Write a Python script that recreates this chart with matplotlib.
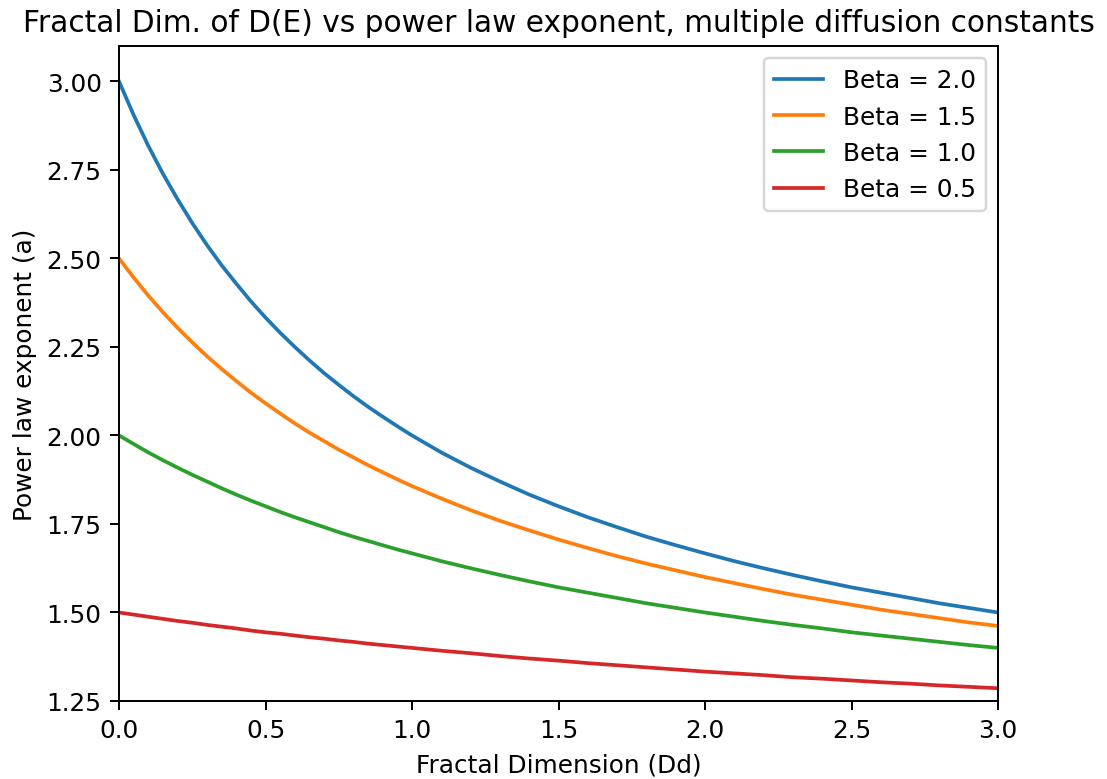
import numpy as np
import matplotlib.pyplot as plt

# fractal dimension samples (finer where the curves bend most)
dd = [0.0, 0.05, 0.1, 0.15, 0.2, 0.25, 0.3, 0.35, 0.4, 0.45, 0.5,
      0.55, 0.6, 0.65, 0.7, 0.75, 0.8, 0.85, 0.9, 0.95, 1.0,
      1.1, 1.2, 1.3, 1.4, 1.5, 1.6, 1.7, 1.8, 1.9, 2.0,
      2.1, 2.2, 2.3, 2.4, 2.5, 2.6, 2.7, 2.8, 2.9, 3.0]

a_beta_20 = [3.000, 2.905, 2.818, 2.739, 2.667, 2.600, 2.538, 2.481, 2.429, 2.379, 2.333,
             2.290, 2.250, 2.212, 2.176, 2.143, 2.111, 2.081, 2.053, 2.026, 2.000,
             1.952, 1.909, 1.870, 1.833, 1.800, 1.769, 1.741, 1.714, 1.690, 1.667,
             1.645, 1.625, 1.606, 1.588, 1.571, 1.556, 1.541, 1.526, 1.513, 1.500]
a_beta_15 = [2.500, 2.446, 2.395, 2.348, 2.304, 2.263, 2.224, 2.188, 2.154, 2.121, 2.091,
             2.062, 2.034, 2.008, 1.984, 1.960, 1.938, 1.916, 1.896, 1.876, 1.857,
             1.822, 1.789, 1.759, 1.732, 1.706, 1.682, 1.659, 1.638, 1.619, 1.600,
             1.583, 1.566, 1.550, 1.536, 1.522, 1.508, 1.496, 1.484, 1.472, 1.462]
a_beta_10 = [2.000, 1.976, 1.952, 1.930, 1.909, 1.889, 1.870, 1.851, 1.833, 1.816, 1.800,
             1.784, 1.769, 1.755, 1.741, 1.727, 1.714, 1.702, 1.690, 1.678, 1.667,
             1.645, 1.625, 1.606, 1.588, 1.571, 1.556, 1.541, 1.526, 1.513, 1.500,
             1.488, 1.476, 1.465, 1.455, 1.444, 1.435, 1.426, 1.417, 1.408, 1.400]
a_beta_05 = [1.500, 1.494, 1.488, 1.482, 1.476, 1.471, 1.465, 1.460, 1.455, 1.449, 1.444,
             1.440, 1.435, 1.430, 1.426, 1.421, 1.417, 1.412, 1.408, 1.404, 1.400,
             1.392, 1.385, 1.377, 1.370, 1.364, 1.357, 1.351, 1.345, 1.339, 1.333,
             1.328, 1.323, 1.317, 1.313, 1.308, 1.303, 1.299, 1.294, 1.290, 1.286]

labels = ['Beta = 2.0', 'Beta = 1.5', 'Beta = 1.0', 'Beta = 0.5']

dpi = 178
fig = plt.figure(figsize=(1107/dpi, 780/dpi), dpi=dpi)
ax = fig.add_axes([119/1107, 1 - 702/780, (998 - 119)/1107, (702 - 47)/780])

for ys, lab in zip([a_beta_20, a_beta_15, a_beta_10, a_beta_05], labels):
    ax.plot(dd, ys, label=lab)

ax.set_xlim(0, 3)
ax.set_ylim(1.25, 3.1)
ax.set_yticks([1.25, 1.5, 1.75, 2.0, 2.25, 2.5, 2.75, 3.0])
ax.set_xlabel('Fractal Dimension (Dd)')
ax.set_ylabel('Power law exponent (a)')
ax.set_title('Fractal Dim. of D(E) vs power law exponent, multiple diffusion constants')
ax.legend(loc='upper right')

fig.savefig('out.png', dpi=dpi)
